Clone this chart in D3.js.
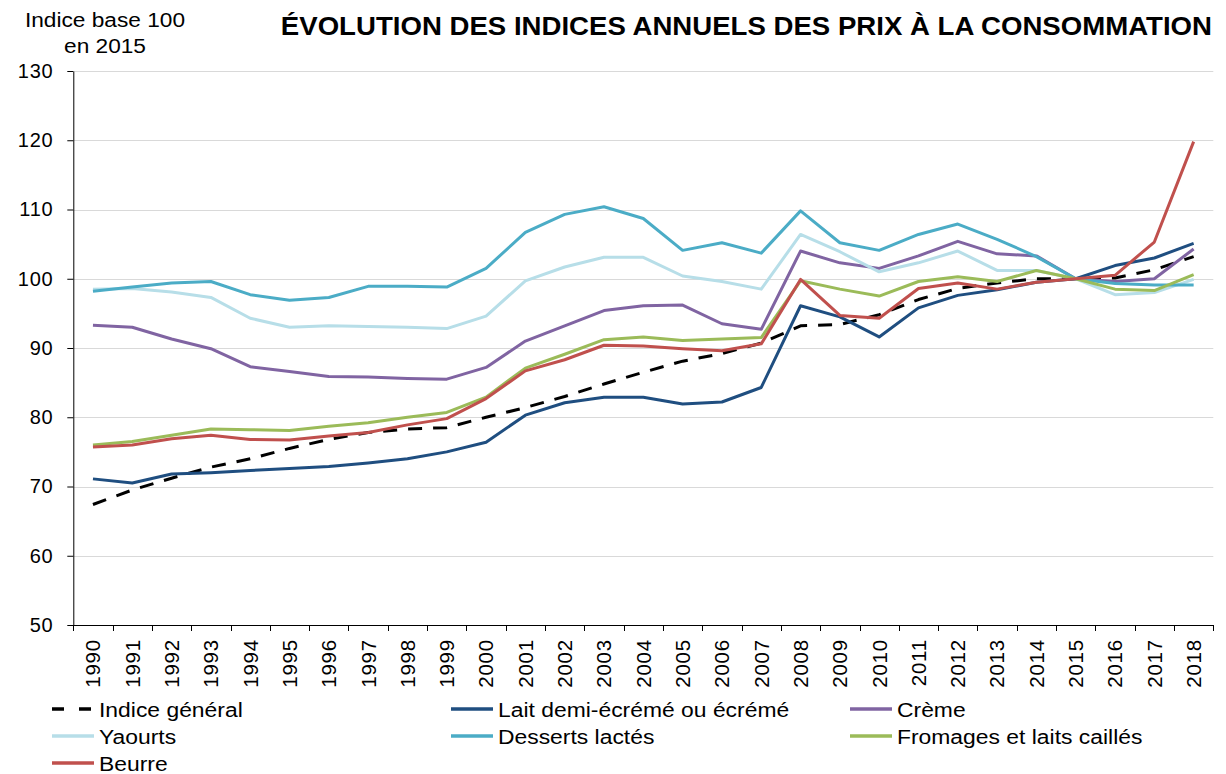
<!DOCTYPE html>
<html>
<head>
<meta charset="utf-8">
<script src="https://cdn.jsdelivr.net/npm/d3@7"></script>
<style>
  body { margin: 0; background: #fff; }
  svg { display: block; font-family: "Liberation Sans", Arial, sans-serif; }
</style>
</head>
<body>
<div id="chart"></div>
<script>
// Indices annuels des prix à la consommation, base 100 en 2015
const years = [1990, 1991, 1992, 1993, 1994, 1995, 1996, 1997, 1998, 1999,
  2000, 2001, 2002, 2003, 2004, 2005, 2006, 2007, 2008, 2009,
  2010, 2011, 2012, 2013, 2014, 2015, 2016, 2017, 2018];

const indiceGeneral = [67.4, 69.5, 71.2, 72.8, 74.0, 75.5, 76.8, 77.8, 78.3, 78.5,
  80.0, 81.4, 83.0, 84.8, 86.5, 88.1, 89.2, 90.7, 93.2, 93.4,
  94.8, 97.0, 98.6, 99.4, 100.0, 100.0, 100.1, 101.3, 103.2];
const lait = [71.1, 70.5, 71.8, 72.0, 72.3, 72.6, 72.9, 73.4, 74.0, 75.0,
  76.4, 80.3, 82.1, 82.9, 82.9, 81.9, 82.2, 84.3, 96.1, 94.5,
  91.6, 95.8, 97.6, 98.4, 99.5, 100.0, 101.9, 103.0, 105.1];
const creme = [93.3, 93.0, 91.3, 89.9, 87.3, 86.6, 85.9, 85.8, 85.6, 85.5,
  87.2, 91.0, 93.2, 95.4, 96.1, 96.2, 93.5, 92.7, 104.0, 102.3,
  101.5, 103.3, 105.4, 103.6, 103.3, 100.0, 99.6, 100.0, 104.3];
const yaourts = [98.5, 98.6, 98.1, 97.3, 94.3, 93.0, 93.2, 93.1, 93.0, 92.8,
  94.6, 99.7, 101.7, 103.1, 103.1, 100.4, 99.6, 98.5, 106.4, 103.9,
  101.0, 102.3, 104.0, 101.2, 101.2, 100.0, 97.7, 98.0, 99.9];
const desserts = [98.2, 98.8, 99.4, 99.6, 97.7, 96.9, 97.3, 98.9, 98.9, 98.8,
  101.5, 106.7, 109.3, 110.4, 108.7, 104.1, 105.2, 103.7, 109.8, 105.2,
  104.1, 106.4, 107.9, 105.7, 103.2, 100.0, 99.3, 99.1, 99.1];
const fromages = [76.0, 76.5, 77.4, 78.3, 78.2, 78.1, 78.7, 79.2, 80.0, 80.7,
  82.9, 87.1, 89.1, 91.2, 91.6, 91.1, 91.3, 91.5, 99.7, 98.5,
  97.5, 99.6, 100.3, 99.6, 101.2, 100.0, 98.5, 98.3, 100.6];
const beurre = [75.7, 76.0, 76.9, 77.4, 76.8, 76.7, 77.3, 77.8, 78.9, 79.8,
  82.7, 86.7, 88.3, 90.4, 90.3, 89.9, 89.6, 90.6, 99.9, 94.7,
  94.3, 98.6, 99.4, 98.5, 99.5, 100.0, 100.5, 105.3, 119.8];

const seriesNames = ["Indice général", "Lait demi-écrémé ou écrémé", "Crème",
  "Yaourts", "Desserts lactés", "Fromages et laits caillés", "Beurre"];
const yTicks = [50, 60, 70, 80, 90, 100, 110, 120, 130];

const w = 1226;
const h = 774;
const plotLeft = 73.3, plotRight = 1213.3, plotTop = 71, plotBottom = 625;

const series = [
  { name: seriesNames[0], values: indiceGeneral, color: "#000000", dash: "14,11" },
  { name: seriesNames[1], values: lait, color: "#1f4e80" },
  { name: seriesNames[2], values: creme, color: "#8064a2" },
  { name: seriesNames[3], values: yaourts, color: "#b7dee8" },
  { name: seriesNames[4], values: desserts, color: "#4bacc6" },
  { name: seriesNames[5], values: fromages, color: "#9bbb59" },
  { name: seriesNames[6], values: beurre, color: "#c0504d" }
];

const svg = d3.select("#chart").append("svg")
  .attr("width", w)
  .attr("height", h);

const x = d3.scaleBand().domain(years).range([plotLeft, plotRight]);
const y = d3.scaleLinear().domain([50, 130]).range([plotBottom, plotTop]);

// horizontal gridlines
svg.append("g")
  .selectAll("line")
  .data(yTicks.filter((d) => d > 50))
  .join("line")
  .attr("x1", plotLeft)
  .attr("x2", plotRight)
  .attr("y1", (d) => Math.round(y(d)) + 0.5)
  .attr("y2", (d) => Math.round(y(d)) + 0.5)
  .attr("stroke", "#d9d9d9")
  .attr("stroke-width", 1);

// y axis
const yAxis = svg.append("g")
  .attr("transform", `translate(${plotLeft},0)`)
  .call(d3.axisLeft(y).tickValues(yTicks).tickSize(6).tickSizeOuter(0).tickPadding(14))
  .attr("font-size", null)
  .attr("font-family", null);
yAxis.selectAll("text")
  .attr("font-size", 20)
  .attr("letter-spacing", 0.7)
  .attr("fill", "#000");

// x axis : labels at centres, ticks between categories
const xAxis = svg.append("g")
  .attr("transform", `translate(0,${plotBottom})`)
  .call(d3.axisBottom(x).tickSize(0).tickSizeOuter(0))
  .attr("font-size", null)
  .attr("font-family", null);
xAxis.selectAll(".tick text")
  .attr("transform", "rotate(-90)")
  .attr("text-anchor", "end")
  .attr("x", -14)
  .attr("y", 0)
  .attr("dy", "0.36em")
  .attr("font-size", 20.5)
  .attr("letter-spacing", 0.8)
  .attr("fill", "#000");
xAxis.selectAll("line.bnd")
  .data(years.map((d) => x(d)).concat([plotRight]))
  .join("line")
  .attr("class", "bnd")
  .attr("x1", (d) => Math.round(d) + 0.5)
  .attr("x2", (d) => Math.round(d) + 0.5)
  .attr("y1", 0)
  .attr("y2", 6)
  .attr("stroke", "#000");

// series lines
const line = d3.line()
  .x((d, i) => x(years[i]) + x.bandwidth() / 2)
  .y((d) => y(d));

svg.append("g")
  .selectAll("path")
  .data(series)
  .join("path")
  .attr("d", (d) => line(d.values))
  .attr("fill", "none")
  .attr("stroke", (d) => d.color)
  .attr("stroke-width", 3)
  .attr("stroke-linejoin", "round")
  .attr("stroke-dasharray", (d) => d.dash || null);

// title
svg.append("text")
  .attr("transform", "translate(1212,35) scale(1.104,1)")
  .attr("text-anchor", "end")
  .attr("font-weight", "bold")
  .attr("font-size", 25)
  .attr("fill", "#000")
  .text("ÉVOLUTION DES INDICES ANNUELS DES PRIX À LA CONSOMMATION");

// y axis title
["Indice base 100", "en 2015"].forEach((t, i) => {
  svg.append("text")
    .attr("transform", `translate(105,${27 + i * 26}) scale(1.08,1)`)
    .attr("text-anchor", "middle")
    .attr("font-size", 21)
    .attr("fill", "#000")
    .text(t);
});

// legend: 3 columns
const colX = [52, 451, 850];
const rowY = [709, 736, 763];
const legend = svg.append("g")
  .selectAll("g")
  .data(series)
  .join("g")
  .attr("transform", (d, i) => `translate(${colX[i % 3]},${rowY[Math.floor(i / 3)]})`);

legend.append("line")
  .attr("x1", 0)
  .attr("x2", 42)
  .attr("y1", 0)
  .attr("y2", 0)
  .attr("stroke", (d) => d.color)
  .attr("stroke-width", 3.5)
  .attr("stroke-dasharray", (d) => (d.dash ? "12,15" : null));

legend.append("text")
  .attr("transform", "translate(47,7.6) scale(1.09,1)")
  .attr("font-size", 21)
  .attr("fill", "#000")
  .text((d) => d.name);
</script>
</body>
</html>
